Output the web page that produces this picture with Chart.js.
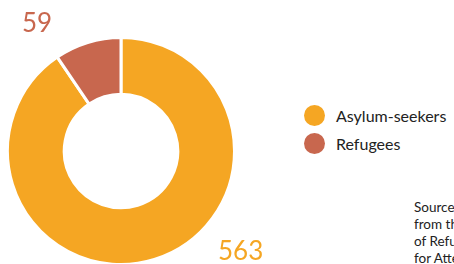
<!DOCTYPE html>
<html>
<head>
<meta charset="utf-8">
<script src="https://cdn.jsdelivr.net/npm/chart.js@4"></script>
<style>
  html, body { margin: 0; padding: 0; width: 454px; height: 264px; overflow: hidden; background: #fff; font-family: Lato, sans-serif; }
  #wrap { position: absolute; left: 0; top: 36px; width: 242px; height: 230px; }
  .val { position: absolute; font-size: 26px; font-weight: 400; line-height: 1; }
  .legend { position: absolute; left: 304px; top: 101px; font-size: 16px; color: #222; }
  .legend div { height: 28px; display: flex; align-items: center; }
  .legend span.dot { width: 21px; height: 21px; border-radius: 50%; margin-right: 11px; display: inline-block; }
  .source { position: absolute; left: 414px; top: 199px; font-size: 13.5px; line-height: 17px; color: #222; white-space: nowrap; }
</style>
</head>
<body>
<div id="wrap"><canvas id="donut"></canvas></div>
<div class="val" id="lblRef" style="left:22px; top:9px; color:#C8674E;"></div>
<div class="val" id="lblAsy" style="left:218px; top:237px; color:#F5A623;"></div>
<div class="legend" id="legend"></div>
<div class="source">Source: data<br>from the State Agency<br>of Refugees<br>for Attention</div>
<script>
// Données
const categories = ['Asylum-seekers', 'Refugees'];
const values = [563, 59];
const colors = ['#F5A623', '#C8674E'];

document.getElementById('lblAsy').textContent = values[0];
document.getElementById('lblRef').textContent = values[1];

// Légende HTML
const legend = document.getElementById('legend');
categories.forEach((c, i) => {
    const row = document.createElement('div');
    row.innerHTML = '<span class="dot" style="background:' + colors[i] + '"></span>' + c;
    legend.appendChild(row);
});

new Chart(document.getElementById('donut'), {
    type: 'doughnut',
    data: {
        labels: categories,
        datasets: [{
            data: values,
            backgroundColor: colors,
            borderColor: '#ffffff',
            borderWidth: 3
        }]
    },
    options: {
        responsive: true,
        maintainAspectRatio: false,
        animation: false,
        cutout: '50%',
        layout: { padding: 0 },
        plugins: {
            legend: { display: false },
            tooltip: { enabled: false }
        }
    }
});
</script>
</body>
</html>
